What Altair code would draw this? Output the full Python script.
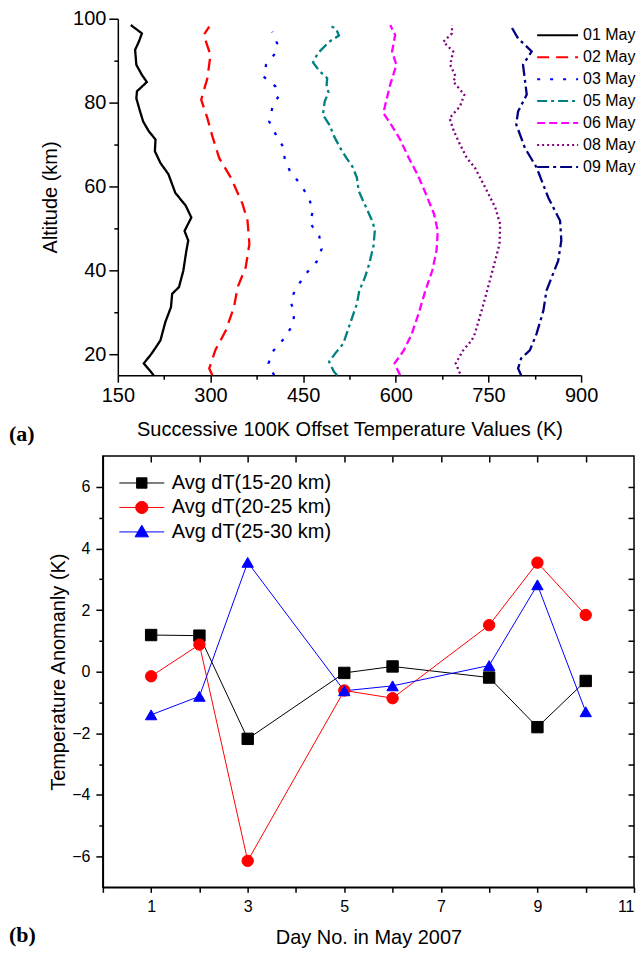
import altair as alt
import pandas as pd

# ---------------- Panel (a): vertical temperature profiles ----------------
days_a = ["01 May", "02 May", "03 May", "05 May", "06 May", "08 May", "09 May"]

alt_01 = [15, 17.8, 20.2, 23.3, 27.7, 31.2, 34.4, 36, 39.9, 44.7, 47.1, 49.4, 52.6, 55.4, 58.5, 62.9,
          65.6, 68.4, 71.2, 73.2, 75.5, 77.9, 81, 82.7, 84.9, 86.6, 89, 92.6, 94.5, 96.5, 98.5]
t_01 = [208, 192, 205, 219, 227, 236, 238, 249, 256, 261, 264, 258, 269, 260, 243, 232,
        219, 210, 211, 200, 191, 186, 180, 181, 197, 189, 180, 178, 184, 189, 171]

alt_02 = [15, 16.6, 21, 25.7, 31.2, 36, 40.7, 46.3, 51.8, 55.8, 62.1, 66.8, 72, 76.3, 80.7, 85.8,
          91.4, 96.1, 98.1]
t_02 = [303, 298, 308, 325, 338, 344, 357, 363, 360, 352, 333, 314, 303, 295, 285, 295,
        300, 289, 298]

alt_03 = [15, 17.8, 20.5, 23.7, 26.9, 29.9, 32.8, 36, 39.1, 42.1, 45.1, 48.2, 51.3, 54.3, 57.3,
          60.5, 63.5, 66.8, 69.6, 72.6, 75.5, 78.7, 81.5, 83.9, 86.2, 89, 91.4, 94.1, 96.9]
t_03 = [403, 394, 400, 419, 433, 436, 429, 440, 454, 472, 480, 476, 461, 466, 459,
        446, 429, 420, 417, 405, 395, 400, 410, 405, 386, 390, 403, 408, 400]

alt_05 = [15, 15.8, 18.2, 20.2, 22.5, 27.3, 32, 35.2, 38.3, 41.5, 45.9, 49.4, 51.4, 55, 58.9, 62.1,
          64.7, 66.8, 69.2, 72, 74.6, 77.1, 80.3, 82.4, 84.3, 85.8, 87.6, 89.6, 91.8, 94.5, 96,
          97.7, 98.5]
t_05 = [505, 500, 492, 502, 515, 526, 537, 541, 550, 557, 564, 566, 563, 552, 540, 537,
        530, 520, 510, 500, 493, 482, 485, 491, 488, 489, 476, 466, 474, 492, 508,
        503, 490]

alt_06 = [15, 17.8, 20.9, 24.9, 29.7, 35.2, 39.9, 44.7, 49.4, 53.4, 58.5, 62.9, 66.8, 71.2, 74.4,
          77.5, 79.5, 84.3, 89, 92.2, 96.1, 98.5]
t_06 = [607, 598, 613, 626, 637, 648, 659, 666, 668, 662, 648, 635, 621, 607, 594,
        580, 583, 591, 601, 594, 599, 591]

alt_08 = [15.4, 17.8, 20.9, 23.3, 24.9, 30.4, 35.2, 40.7, 46.3, 51, 55, 59.7, 64.5, 66.8, 70, 73.2,
          76.3, 79.1, 81.9, 85, 86.2, 89, 92.2, 94.5, 96.5, 98.5]
t_08 = [704, 697, 709, 723, 728, 739, 748, 758, 768, 769, 761, 745, 728, 715, 704, 694,
        687, 704, 711, 693, 697, 688, 693, 677, 691, 691]

alt_09 = [15, 16.6, 19, 20.9, 24.9, 30.4, 35.2, 42.3, 47.1, 51.8, 57.3, 64.5, 69.2, 74.8, 77.9,
          81.9, 89, 92.2, 95.3, 98.1]
t_09 = [803, 798, 803, 817, 828, 839, 844, 863, 868, 866, 847, 828, 809, 795, 798,
        812, 806, 820, 798, 787]

profiles = [(alt_01, t_01), (alt_02, t_02), (alt_03, t_03), (alt_05, t_05),
            (alt_06, t_06), (alt_08, t_08), (alt_09, t_09)]

colors_a = ["#000000", "#FF0000", "#0000FF", "#008080", "#FF00FF", "#800080", "#000080"]
dashes_a = [[1, 0], [12, 7], [3, 10], [10, 4, 3, 4], [8, 4], [2, 3], [12, 4, 3, 4]]

rows_a = []
for d, (alts, temps) in zip(days_a, profiles):
    for a, t in zip(alts, temps):
        rows_a.append({"day": d, "alt": a, "T": t})
df_a = pd.DataFrame(rows_a)

FONT = "Liberation Sans"
INSET_A = 15  # panel (a) axes start a little to the right of panel (b)'s

leg_a = alt.Legend(title=None, orient="none", legendX=419 + INSET_A, legendY=8, symbolType="stroke",
                   symbolSize=1681, symbolStrokeWidth=2, labelFontSize=16, labelFont=FONT,
                   labelColor="black", labelOffset=4, rowPadding=5, clipHeight=17, padding=0)

lines_a = alt.Chart(df_a).mark_line(strokeWidth=2.3).encode(
    x=alt.X("T:Q", scale=alt.Scale(domain=[150, 900], nice=False, zero=False,
                                   range=[INSET_A, INSET_A + 464]),
            axis=alt.Axis(values=list(range(150, 901, 75)),
                          labelExpr="datum.value % 150 == 0 ? datum.label : ''",
                          tickSize={"condition": {"test": "datum.value % 150 == 0", "value": 7}, "value": 4},
                          labelFontSize=20, labelPadding=3, labelFlush=False,
                          title="Successive 100K Offset Temperature Values (K)",
                          titleFontSize=20, titlePadding=14)),
    y=alt.Y("alt:Q", scale=alt.Scale(domain=[15, 100], nice=False, zero=False),
            axis=alt.Axis(values=list(range(20, 101, 10)), offset=-INSET_A,
                          labelExpr="datum.value % 20 == 0 ? datum.label : ''",
                          tickSize={"condition": {"test": "datum.value % 20 == 0", "value": 9}, "value": 4},
                          labelFontSize=20, labelPadding=3, labelFlush=False,
                          title="Altitude (km)", titleFontSize=20, titlePadding=12)),
    order=alt.Order("alt:Q"),
    color=alt.Color("day:N", scale=alt.Scale(domain=days_a, range=colors_a), legend=leg_a),
    strokeDash=alt.StrokeDash("day:N", scale=alt.Scale(domain=days_a, range=dashes_a), legend=leg_a),
)

lab_a = alt.Chart(pd.DataFrame({"t": ["(a)"]})).mark_text(
    font="Liberation Serif", fontSize=22, fontWeight="bold", align="left",
    baseline="alphabetic", color="black").encode(
    text="t:N", x=alt.value(-94), y=alt.value(423))

top = alt.layer(lines_a, lab_a).properties(width=464 + INSET_A, height=357)

# ---------------- Panel (b): temperature anomaly ----------------
series_b = ["Avg dT(15-20 km)", "Avg dT(20-25 km)", "Avg dT(25-30 km)"]
days_b = [1, 2, 3, 5, 6, 8, 9, 10]
dt_15_20 = [1.19, 1.17, -2.18, -0.04, 0.17, -0.19, -1.80, -0.30]
dt_20_25 = [-0.15, 0.88, -6.14, -0.61, -0.86, 1.51, 3.54, 1.84]
dt_25_30 = [-1.40, -0.80, 3.55, -0.62, -0.46, 0.20, 2.82, -1.30]

colors_b = ["#000000", "#FF0000", "#0000FF"]
shapes_b = ["square", "circle", "triangle-up"]
# legend symbols: a line with the marker in its middle
legend_paths = ["M-1,0H1M-0.23,-0.23H0.23V0.23H-0.23Z",
                "M-1,0H1M0.27,0A0.27,0.27,0,1,1,-0.27,0A0.27,0.27,0,1,1,0.27,0Z",
                "M-1,0H1M0,-0.3L0.3,0.22H-0.3Z"]

rows_b = []
for s, vals in zip(series_b, [dt_15_20, dt_20_25, dt_25_30]):
    for d, v in zip(days_b, vals):
        rows_b.append({"series": s, "day": d, "val": v})
df_b = pd.DataFrame(rows_b)

leg_b = alt.Legend(title=None, orient="none", legendX=16, legendY=17, symbolSize=2025,
                   symbolStrokeWidth=1, labelFontSize=20, labelFont=FONT, labelColor="black",
                   labelOffset=7, rowPadding=4.5, clipHeight=20, padding=0, symbolOpacity=1)

xs_b = alt.Scale(domain=[0, 11], nice=False, zero=False)
ys_b = alt.Scale(domain=[-7, 7], nice=False, zero=False)
col_b = alt.Scale(domain=series_b, range=colors_b)

line_b = alt.Chart(df_b).mark_line(strokeWidth=1).encode(
    x=alt.X("day:Q", scale=xs_b,
            axis=alt.Axis(values=list(range(0, 12)),
                          labelExpr="datum.value % 2 == 1 ? datum.label : ''",
                          tickSize=5, labelFontSize=16, labelPadding=6, labelFlush=True,
                          title="Day No. in May 2007", titleFontSize=20, titlePadding=13)),
    y=alt.Y("val:Q", scale=ys_b,
            axis=alt.Axis(values=list(range(-6, 7)),
                          labelExpr="datum.value % 2 == 0 ? datum.label : ''",
                          tickSize={"condition": {"test": "datum.value % 2 == 0", "value": 7}, "value": 4},
                          labelFontSize=16, labelPadding=6, labelFlush=False,
                          title="Temperature Anomanly (K)", titleFontSize=20, titlePadding=3)),
    color=alt.Color("series:N", scale=col_b, legend=None),
)

pts_b = alt.Chart(df_b).mark_point(filled=True, size=130, opacity=1, strokeWidth=1).encode(
    x=alt.X("day:Q", scale=xs_b,
            axis=alt.Axis(orient="top", offset=-6, tickSize=6, labels=False, domain=False,
                          title=None, values=list(range(1, 11)))),
    y=alt.Y("val:Q", scale=ys_b,
            axis=alt.Axis(orient="right", offset=-6, tickSize=6, labels=False, domain=False,
                          title=None, values=list(range(-6, 7)))),
    fill=alt.Fill("series:N", scale=col_b, legend=None),
    stroke=alt.Stroke("series:N", scale=col_b, legend=None),
    shape=alt.Shape("series:N", scale=alt.Scale(domain=series_b, range=shapes_b), legend=None),
)

# legend-only layer (no marks drawn, legend built from the explicit domains)
leg_layer = alt.Chart(df_b).transform_filter("false").mark_point(
    filled=True, size=2025, opacity=1, strokeWidth=1).encode(
    fill=alt.Fill("series:N", scale=col_b, legend=leg_b),
    stroke=alt.Stroke("series:N", scale=col_b, legend=leg_b),
    shape=alt.Shape("series:N", scale=alt.Scale(domain=series_b, range=legend_paths), legend=leg_b),
)

lab_b = alt.Chart(pd.DataFrame({"t": ["(b)"]})).mark_text(
    font="Liberation Serif", fontSize=22, fontWeight="bold", align="left",
    baseline="alphabetic", color="black").encode(
    text="t:N", x=alt.value(-94), y=alt.value(487))

bottom = alt.layer(line_b, pts_b, leg_layer, lab_b).resolve_axis(
    x="independent", y="independent").resolve_scale(
    fill="independent", stroke="independent", shape="independent").properties(
    width=532, height=432, view=alt.ViewBackground(stroke="black", strokeWidth=1.5))

chart = alt.vconcat(top, bottom, spacing=9).resolve_scale(
    color="independent", strokeDash="independent", fill="independent",
    stroke="independent", shape="independent").resolve_legend(
    color="independent", strokeDash="independent", fill="independent",
    stroke="independent", shape="independent").properties(padding=0).configure_view(
    strokeWidth=0).configure_axis(
    labelFont=FONT, titleFont=FONT, labelColor="black", titleColor="black",
    domainColor="black", tickColor="black", domainWidth=1.5, tickWidth=1.5,
    titleFontWeight="normal", grid=False).configure_legend(labelFont=FONT)

chart.save("out.html", embed_options={"renderer": "svg", "actions": False})
